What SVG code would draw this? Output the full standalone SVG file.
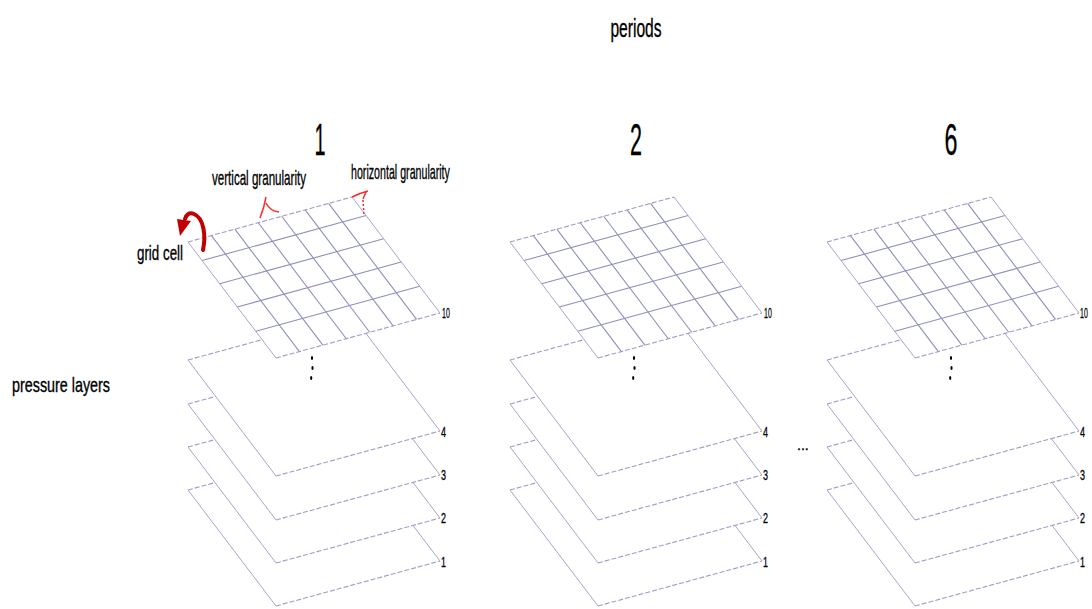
<svg xmlns="http://www.w3.org/2000/svg" xmlns:xlink="http://www.w3.org/1999/xlink" width="1092" height="609" viewBox="0 0 1092 609">
<style>
.t{font-family:"Liberation Sans",Arial,sans-serif;fill:#000;stroke:#000;stroke-width:0.35}
.edge{stroke:#a4a6cc;stroke-width:1;fill:none}
.dash{stroke:#9c9ec8;stroke-width:1.1;fill:none;stroke-dasharray:5 2}
.gl{stroke:#8e90bc;stroke-width:1.1;fill:none}
.lbl{font-family:"Liberation Sans",Arial,sans-serif;font-size:14px;fill:#000;stroke:#000;stroke-width:0.3}
.red{stroke:#ff2a2a;stroke-width:1.5;fill:none}
</style>
<defs>
<g id="plane">
<polygon points="0,0 164,-45 252,71 88,116" fill="#fff" stroke="none"/>
<path class="dash" d="M0 0 L164 -45 M88 116 L252 71"/>
<path class="edge" d="M164 -45 L252 71 M0 0 L88 116"/>
</g>
<g id="grid">
<polygon points="0,0 164,-45 252,71 88,116" fill="#fff" stroke="none"/>
<path class="gl" d="M23.43 -6.43 L111.43 109.57 M46.86 -12.86 L134.86 103.14 M70.29 -19.29 L158.29 96.71 M93.71 -25.71 L181.71 90.29 M117.14 -32.14 L205.14 83.86 M140.57 -38.57 L228.57 77.43"/>
<path class="gl" d="M14.08 18.56 L178.08 -26.44 M31.68 41.76 L195.68 -3.24 M49.28 64.96 L213.28 19.96 M67.76 89.32 L231.76 44.32"/>
<path class="dash" d="M0 0 L164 -45 M88 116 L252 71"/>
<path class="edge" d="M164 -45 L252 71 M0 0 L88 116"/>
</g>
<g id="dots" fill="#000">
<ellipse cx="0" cy="0" rx="1.1" ry="2"/>
<ellipse cx="0.5" cy="10" rx="1.1" ry="2"/>
<ellipse cx="-0.8" cy="20" rx="1.1" ry="2"/>
</g>
</defs>

<g id="title"><text class="t" transform="translate(636,37) scale(0.6,1)" font-size="26" text-anchor="middle">periods</text></g>
<g id="label-pressure-layers"><text class="t" transform="translate(12,392) scale(0.717,1)" font-size="20">pressure layers</text></g>

<g id="period-1">
<text class="t" transform="translate(320,155) scale(0.45,1)" font-size="44" text-anchor="middle">1</text>
<g id="p1-layer-1"><use xlink:href="#plane" x="188" y="490"/><text class="lbl" transform="translate(441,567) scale(0.64,1)">1</text></g>
<g id="p1-layer-2"><use xlink:href="#plane" x="188" y="447"/><text class="lbl" transform="translate(441,523) scale(0.64,1)">2</text></g>
<g id="p1-layer-3"><use xlink:href="#plane" x="188" y="404"/><text class="lbl" transform="translate(441,480) scale(0.64,1)">3</text></g>
<g id="p1-layer-4"><use xlink:href="#plane" x="188" y="360"/><text class="lbl" transform="translate(441,437) scale(0.64,1)">4</text></g>
<use xlink:href="#dots" x="312" y="358"/>
<g id="p1-layer-10"><use xlink:href="#grid" x="188" y="242"/><text class="lbl" transform="translate(442,318) scale(0.5,1)">10</text></g>
</g>

<g id="period-2">
<text class="t" transform="translate(636,155) scale(0.49,1)" font-size="44" text-anchor="middle">2</text>
<g id="p2-layer-1"><use xlink:href="#plane" x="510" y="490"/><text class="lbl" transform="translate(763,567) scale(0.64,1)">1</text></g>
<g id="p2-layer-2"><use xlink:href="#plane" x="510" y="447"/><text class="lbl" transform="translate(763,523) scale(0.64,1)">2</text></g>
<g id="p2-layer-3"><use xlink:href="#plane" x="510" y="404"/><text class="lbl" transform="translate(763,480) scale(0.64,1)">3</text></g>
<g id="p2-layer-4"><use xlink:href="#plane" x="510" y="360"/><text class="lbl" transform="translate(763,437) scale(0.64,1)">4</text></g>
<use xlink:href="#dots" x="634" y="358"/>
<g id="p2-layer-10"><use xlink:href="#grid" x="510" y="242"/><text class="lbl" transform="translate(764,318) scale(0.5,1)">10</text></g>
</g>

<g id="ellipsis"><text class="t" x="797" y="450" font-size="14">...</text></g>

<g id="period-6">
<text class="t" transform="translate(951,155) scale(0.53,1)" font-size="44" text-anchor="middle">6</text>
<g id="p6-layer-1"><use xlink:href="#plane" x="827" y="490"/><text class="lbl" transform="translate(1080,567) scale(0.64,1)">1</text></g>
<g id="p6-layer-2"><use xlink:href="#plane" x="827" y="447"/><text class="lbl" transform="translate(1080,523) scale(0.64,1)">2</text></g>
<g id="p6-layer-3"><use xlink:href="#plane" x="827" y="404"/><text class="lbl" transform="translate(1080,480) scale(0.64,1)">3</text></g>
<g id="p6-layer-4"><use xlink:href="#plane" x="827" y="360"/><text class="lbl" transform="translate(1080,437) scale(0.64,1)">4</text></g>
<use xlink:href="#dots" x="951" y="358"/>
<g id="p6-layer-10"><use xlink:href="#grid" x="827" y="242"/><text class="lbl" transform="translate(1080,318) scale(0.5,1)">10</text></g>
</g>

<g id="annotations">
<g id="grid-cell">
<text class="t" transform="translate(137,260) scale(0.668,1)" font-size="20">grid cell</text>
<path d="M203 250 C206 236 204 218 194 214 C189 212 186 215 185 219" stroke="#c00000" stroke-width="4" fill="none" stroke-linecap="round"/>
<polygon points="177,219 191,221 180,236" fill="#c00000"/>
</g>
<g id="vertical-granularity">
<text class="t" transform="translate(212,185) scale(0.58,1)" font-size="20">vertical granularity</text>
<path class="red" d="M260 218 Q264 208 266 197 M266 203 Q270 211 279 212"/>
</g>
<g id="horizontal-granularity">
<text class="t" transform="translate(351,179) scale(0.533,1)" font-size="20">horizontal granularity</text>
<path class="red" d="M352 197 Q360 193 368 191 M366 192 L363 199"/>
<path class="red" d="M363 200 L364 216" stroke-dasharray="2 2"/>
</g>
</g>
</svg>
